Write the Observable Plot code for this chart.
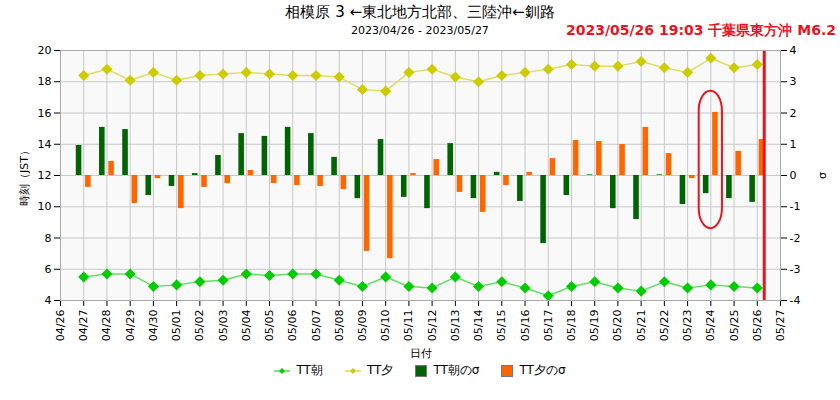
<!DOCTYPE html>
<html><head><meta charset="utf-8">
<script src="https://cdn.jsdelivr.net/npm/d3@7"></script>
<script src="https://cdn.jsdelivr.net/npm/@observablehq/plot@0.6"></script>
<style>
body{margin:0;font-family:"DejaVu Sans",sans-serif;background:#fff;width:840px;}
#hdr{position:relative;height:40px;}
#t1{position:absolute;left:0;width:840px;top:3px;text-align:center;font-size:15px;}
#t2{position:absolute;left:0;width:840px;top:24px;text-align:center;font-size:11px;}
#t3{position:absolute;right:4px;top:22px;font-size:14px;color:#e8141e;font-weight:bold;}
#leg{display:flex;justify-content:center;gap:22px;font-size:12px;margin-top:2px;}
#leg span{display:flex;align-items:center;gap:6px;}
.sq{display:inline-block;width:10px;height:10px;border:1px solid #777;}
</style></head><body>
<div id="hdr"><div id="t1">相模原 3 ←東北地方北部、三陸沖←釧路</div><div id="t2">2023/04/26 - 2023/05/27</div><div id="t3">2023/05/26 19:03 千葉県東方沖 M6.2</div></div>
<div id="chart"></div>
<div id="leg">
<span><svg width="16" height="10"><line x1="0" y1="5" x2="16" y2="5" stroke="#00cc00"/><path d="M8 2L11 5L8 8L5 5Z" fill="#00cc00"/></svg>TT朝</span>
<span><svg width="16" height="10"><line x1="0" y1="5" x2="16" y2="5" stroke="#cccc00"/><path d="M8 2L11 5L8 8L5 5Z" fill="#cccc00"/></svg>TT夕</span>
<span><i class="sq" style="background:#006400"></i>TT朝のσ</span>
<span><i class="sq" style="background:#ff6600"></i>TT夕のσ</span>
</div>
<script>
const tickLabels = ["04/26","04/27","04/28","04/29","04/30","05/01","05/02","05/03","05/04","05/05","05/06","05/07","05/08","05/09","05/10","05/11","05/12","05/13","05/14","05/15","05/16","05/17","05/18","05/19","05/20","05/21","05/22","05/23","05/24","05/25","05/26","05/27"];
const days = tickLabels.slice(1,31);
const ttMorning = [5.5,5.7,5.7,4.9,5.0,5.2,5.3,5.7,5.6,5.7,5.7,5.3,4.9,5.5,4.9,4.8,5.5,4.9,5.2,4.8,4.3,4.9,5.2,4.8,4.6,5.2,4.8,5.0,4.9,4.8];
const ttEvening = [18.4,18.8,18.1,18.6,18.1,18.4,18.5,18.6,18.5,18.4,18.4,18.3,17.5,17.4,18.6,18.8,18.3,18.0,18.4,18.6,18.8,19.1,19.0,19.0,19.3,18.9,18.6,19.5,18.9,19.1];
const sigMorning = [0.96,1.54,1.47,-0.64,-0.35,0.06,0.64,1.34,1.25,1.54,1.34,0.58,-0.74,1.15,-0.7,-1.06,1.02,-0.74,0.1,-0.83,-2.18,-0.64,0.02,-1.06,-1.41,0.02,-0.93,-0.58,-0.74,-0.86];
const sigEvening = [-0.38,0.45,-0.9,-0.1,-1.06,-0.38,-0.26,0.16,-0.26,-0.32,-0.35,-0.45,-2.43,-2.66,0.06,0.51,-0.54,-1.18,-0.32,0.1,0.54,1.12,1.09,0.99,1.54,0.7,-0.1,2.02,0.77,1.15];
const quakeDay = 30.3;      // 2023/05/26 19:03
const highlight = {day: 28, sigLo: -1.7, sigHi: 2.7};

const toY = s => 12 + 2*s;
const rows = days.map((d,i)=>({i:i+1, m:ttMorning[i], e:ttEvening[i], sm:sigMorning[i], se:sigEvening[i]}));
const dayTicks = d3.range(0,32);
const yTicks = d3.range(4,21,2);
const chart = Plot.plot({
  width:840, height:320, marginTop:10, marginBottom:60, marginLeft:60, marginRight:60,
  style:{fontFamily:"DejaVu Sans", fontSize:"11px"},
  x:{domain:[0,31], ticks:dayTicks, tickFormat:i=>tickLabels[i], tickRotate:-90, label:"日付", labelAnchor:"center", labelOffset:56, labelArrow:"none"},
  y:{domain:[4,20], ticks:yTicks, label:"時刻（JST）", labelAnchor:"center", labelOffset:40, labelArrow:"none"},
  marks:[
    Plot.frame({fill:"#f9f9f9", stroke:"none"}),
    Plot.gridX(dayTicks,{stroke:"#c8c8c8", strokeOpacity:1}),
    Plot.gridY(yTicks,{stroke:"#c8c8c8", strokeOpacity:1}),
    Plot.rect(rows,{x1:d=>d.i-0.32, x2:d=>d.i-0.08, y1:12, y2:d=>toY(d.sm), fill:"#006400"}),
    Plot.rect(rows,{x1:d=>d.i+0.08, x2:d=>d.i+0.32, y1:12, y2:d=>toY(d.se), fill:"#ff6600"}),
    Plot.line(rows,{x:"i", y:"m", stroke:"#66dd66", strokeWidth:1.5}),
    Plot.dot(rows,{x:"i", y:"m", symbol:"diamond2", fill:"#00cc00", r:5}),
    Plot.line(rows,{x:"i", y:"e", stroke:"#dddd66", strokeWidth:1.5}),
    Plot.dot(rows,{x:"i", y:"e", symbol:"diamond2", fill:"#cccc00", r:5}),
    Plot.rect([highlight],{x1:d=>d.day-0.5, x2:d=>d.day+0.5, y1:d=>toY(d.sigLo), y2:d=>toY(d.sigHi), rx:20, fill:"none", stroke:"#e8141e", strokeWidth:2}),
    Plot.ruleX([quakeDay],{stroke:"#e8141e", strokeWidth:3}),
    Plot.axisX(dayTicks,{tickFormat:i=>tickLabels[i], tickRotate:-90, label:"日付", labelAnchor:"center", labelOffset:56, labelArrow:"none"}),
    Plot.axisY(yTicks,{anchor:"left", label:"時刻（JST）", labelAnchor:"center", labelOffset:40, labelArrow:"none"}),
    Plot.axisY(yTicks,{anchor:"right", tickFormat:v=>String((v-12)/2), label:"σ", labelAnchor:"center", labelOffset:45, labelArrow:"none"}),
    Plot.frame({stroke:"#aaa"})
  ]
});
document.getElementById("chart").append(chart);
</script></body></html>
